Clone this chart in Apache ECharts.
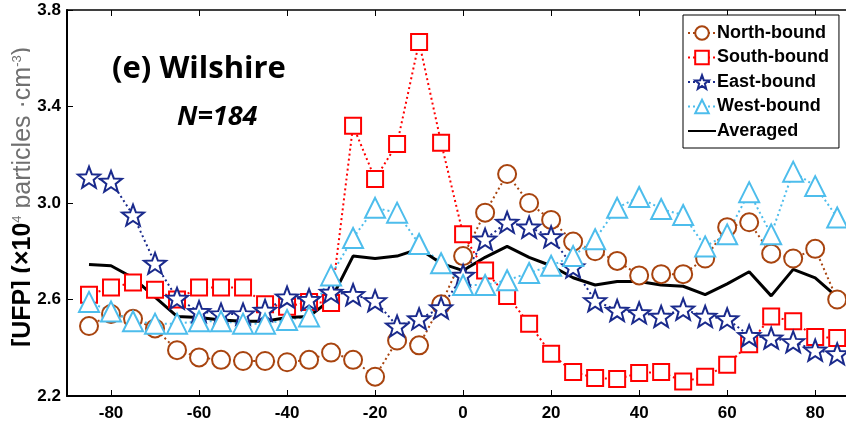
<!DOCTYPE html>
<html>
<head>
<meta charset="utf-8">
<script src="https://cdn.jsdelivr.net/npm/echarts@6/dist/echarts.min.js"></script>
<style>
  html, body { margin: 0; padding: 0; background: #fff; }
  #chart { width: 846px; height: 421px; }
</style>
</head>
<body>
<div id="chart"></div>
<script>
// distance from intersection (m), one point every 5 m
var distance = [-85, -80, -75, -70, -65, -60, -55, -50, -45, -40, -35, -30, -25, -20, -15, -10, -5,
  0, 5, 10, 15, 20, 25, 30, 35, 40, 45, 50, 55, 60, 65, 70, 75, 80, 85];

var northBound = [2.49, 2.54, 2.52, 2.48, 2.39, 2.36, 2.35, 2.345, 2.345, 2.34, 2.35, 2.38, 2.35, 2.28, 2.43, 2.41, 2.58,
  2.78, 2.96, 3.12, 3.00, 2.93, 2.84, 2.80, 2.76, 2.70, 2.705, 2.705, 2.77, 2.90, 2.92, 2.79, 2.77, 2.81, 2.60];
var southBound = [2.62, 2.65, 2.67, 2.64, 2.60, 2.65, 2.65, 2.65, 2.58, 2.57, 2.59, 2.585, 3.32, 3.10, 3.245, 3.667, 3.25,
  2.87, 2.72, 2.615, 2.50, 2.375, 2.30, 2.275, 2.27, 2.295, 2.30, 2.26, 2.28, 2.33, 2.415, 2.53, 2.51, 2.445, 2.44];
var eastBound = [3.107, 3.09, 2.95, 2.75, 2.605, 2.55, 2.54, 2.54, 2.555, 2.61, 2.60, 2.63, 2.62, 2.595, 2.49, 2.52, 2.565,
  2.70, 2.85, 2.92, 2.90, 2.86, 2.735, 2.595, 2.555, 2.545, 2.53, 2.56, 2.53, 2.52, 2.45, 2.44, 2.425, 2.39, 2.375];
var westBound = [2.59, 2.55, 2.51, 2.50, 2.50, 2.51, 2.51, 2.50, 2.50, 2.515, 2.53, 2.70, 2.855, 2.98, 2.96, 2.83, 2.75,
  2.66, 2.66, 2.68, 2.71, 2.74, 2.78, 2.85, 2.98, 3.025, 2.975, 2.95, 2.82, 2.87, 3.045, 2.87, 3.13, 3.07, 2.94];
var averaged = [2.745, 2.74, 2.69, 2.61, 2.53, 2.525, 2.515, 2.51, 2.51, 2.525, 2.53, 2.60, 2.78, 2.77, 2.78, 2.81, 2.75,
  2.72, 2.775, 2.82, 2.775, 2.74, 2.69, 2.66, 2.675, 2.675, 2.66, 2.655, 2.62, 2.665, 2.715, 2.615, 2.725, 2.69, 2.61];

var FONT = '"Liberation Sans", Arial, sans-serif';
var STAR = 'path://M50 0 L62.34 33.01 L97.55 34.55 L69.97 56.49 L79.39 90.45 L50 71 L20.61 90.45 L30.03 56.49 L2.45 34.55 L37.66 33.01 Z';

function pairs(ys) {
  return distance.map(function (x, i) { return [x, ys[i]]; });
}

function dotted(name, ys, color, symbol, size) {
  return {
    name: name,
    type: 'line',
    data: pairs(ys),
    symbol: symbol,
    symbolSize: size,
    symbolKeepAspect: true,
    lineStyle: { color: color, width: 2, type: [2, 3] },
    itemStyle: { color: '#fff', borderColor: color, borderWidth: 2 },
    emphasis: { disabled: true },
    animation: false
  };
}

var chart = echarts.init(document.getElementById('chart'));

chart.setOption({
  backgroundColor: '#fff',
  animation: false,
  title: [
    { text: '(e) Wilshire', left: 107, top: 49,
      textStyle: { fontFamily: '"Open Sans", sans-serif', fontWeight: 'bold', fontSize: 31, color: '#000' } },
    { text: 'N=184', left: 172, top: 99,
      textStyle: { fontFamily: '"Open Sans", sans-serif', fontWeight: 'bold', fontStyle: 'italic', fontSize: 27, color: '#000' } }
  ],
  // the axis title is cut along its baseline in the original
  graphic: [{
    type: 'rect', left: 30, top: 30, z: 100,
    shape: { width: 7, height: 340 },
    style: { fill: '#fff' }
  }],
  legend: {
    data: [
      'North-bound', 'South-bound', 'East-bound', 'West-bound',
      { name: 'Averaged', itemStyle: { opacity: 0 } }
    ],
    orient: 'vertical',
    left: 683,
    top: 15,
    padding: [9, 10, 8, 4],
    itemGap: 6.5,
    itemWidth: 28,
    itemHeight: 17,
    borderColor: '#000',
    borderWidth: 1,
    backgroundColor: '#fff',
    textStyle: { fontFamily: FONT, fontWeight: 'bold', fontSize: 18, color: '#000', padding: [0, 0, 0, -4] }
  },
  grid: { left: 67, right: 0, top: 10, bottom: 25, containLabel: false, outerBoundsMode: 'none' },
  xAxis: [{
    type: 'value',
    min: -90,
    max: 87,
    minInterval: 20,
    maxInterval: 20,
    axisLine: { onZero: false, lineStyle: { color: '#000', width: 2 } },
    axisTick: { inside: true, length: 6, lineStyle: { color: '#000' } },
    axisLabel: { showMinLabel: false, showMaxLabel: false, fontFamily: FONT, fontWeight: 'bold', fontSize: 17, color: '#000', margin: 9 },
    splitLine: { show: false }
  }, {
    type: 'value',
    position: 'top',
    min: -90,
    max: 87,
    minInterval: 20,
    maxInterval: 20,
    axisLine: { onZero: false, lineStyle: { color: '#000', width: 1.5 } },
    axisTick: { inside: true, length: 6, lineStyle: { color: '#000' } },
    axisLabel: { show: false },
    splitLine: { show: false }
  }],
  yAxis: {
    type: 'value',
    min: 2.2,
    max: 3.8,
    interval: 0.4,
    axisLine: { show: true, onZero: false, lineStyle: { color: '#000', width: 2 } },
    axisTick: { show: true, inside: true, length: 6, lineStyle: { color: '#000' } },
    axisLabel: {
      fontFamily: FONT, fontWeight: 'bold', fontSize: 17, color: '#000', margin: 6,
      formatter: function (v) { return v.toFixed(1); }
    },
    splitLine: { show: false },
    name: '{b|[UFP] (×10}{sup|4}{r| particles ·cm}{sup|-3}{r|)}',
    nameLocation: 'middle',
    nameGap: 31,
    nameMoveOverlap: false,
    nameTextStyle: {
      padding: [0, 0, 0, 12],
      rich: {
        b: { fontFamily: FONT, fontWeight: 'bold', fontSize: 25, color: '#000' },
        r: { fontFamily: FONT, fontSize: 25, color: '#707070' },
        sup: { fontFamily: FONT, fontSize: 13, color: '#707070', verticalAlign: 'top' }
      }
    }
  },
  series: [
    dotted('North-bound', northBound, '#a8440f', 'circle', 18),
    dotted('South-bound', southBound, '#ff0000', 'rect', 16),
    dotted('East-bound', eastBound, '#1a2a8c', STAR, 22),
    dotted('West-bound', westBound, '#4dbdec', 'triangle', 20),
    {
      name: 'Averaged',
      type: 'line',
      data: pairs(averaged),
      symbol: 'none',
      lineStyle: { color: '#000', width: 3 },
      itemStyle: { color: '#000' },
      emphasis: { disabled: true },
      animation: false
    }
  ]
});
</script>
</body>
</html>
